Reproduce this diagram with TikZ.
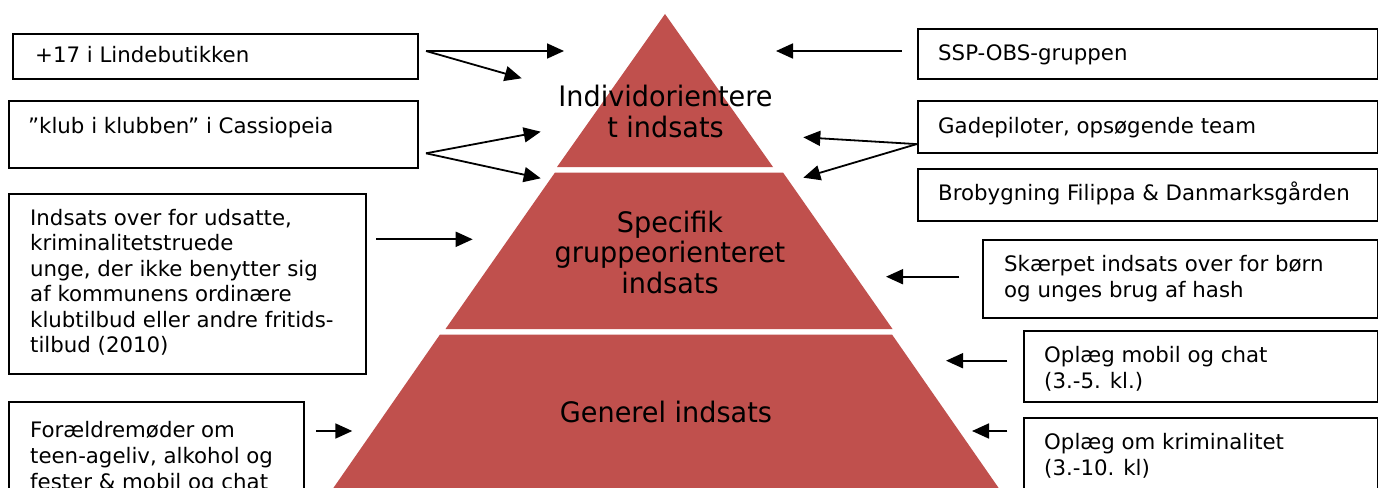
\documentclass[tikz,border=0pt]{standalone}
\usepackage{fontspec}
\usetikzlibrary{arrows.meta,calc}
\newfontfamily\boxfamily{DejaVu Sans}
\newfontfamily\pyrfamily[FakeStretch=0.96]{DejaVu Sans}
\definecolor{pyrred}{HTML}{C0504D}
\newcommand{\bstrut}{\rule{0pt}{17pt}}
\newcommand{\pstrut}{\rule{0pt}{21pt}}
\begin{document}
\begin{tikzpicture}[x=1pt,y=-1pt,
  box/.style={draw=black, line width=1.8pt, rectangle, inner sep=0pt, anchor=north west},
  btxt/.style={font=\boxfamily\fontsize{21.3pt}{26pt}\selectfont, inner sep=0pt, align=left, anchor=north west},
  bline/.style={font=\boxfamily\fontsize{21.3pt}{26pt}\selectfont, inner sep=0pt, anchor=base west},
  ptxt/.style={font=\pyrfamily\fontsize{28.2pt}{30.5pt}\selectfont, inner sep=0pt, align=center, anchor=north},
  arr/.style={line width=1.8pt, -{Triangle[length=17pt,width=15pt]}},
  tier/.style={fill=pyrred, draw=none}]
\useasboundingbox (0,0) rectangle (1378,487);
\clip (0,0) rectangle (1378,487);
\fill[white] (0,0) rectangle (1378,487);

% pyramid tiers
\fill[tier] (665,14) -- (773,167) -- (557,167) -- cycle;
\fill[tier] (555,172.5) -- (783,172.5) -- (892.5,329) -- (445.5,329) -- cycle;
\fill[tier] (440,334.5) -- (892,334.5) -- (1007,500) -- (325,500) -- cycle;

% pyramid labels
\node[ptxt] (ptop) at (665.5,85) {\pstrut Individorientere\\t indsats};
\node[ptxt] (pmid) at (670,210.7) {\pstrut Specifik\\gruppeorienteret\\indsats};
\node[ptxt, anchor=base] (pbot) at (666,422) {Generel indsats};

% left boxes
\node[box, minimum width=405pt, minimum height=44.8pt] (b1) at (12,33.5) {};
\node[box, minimum width=408.7pt, minimum height=66.7pt] (b2) at (8.3,100) {};
\node[box, minimum width=356.7pt, minimum height=180pt] (b3) at (8.3,192.7) {};
\node[box, minimum width=294.4pt, minimum height=110pt] (b4) at (8.3,400.7) {};

\node[bline] (t1) at (35,63) {+17 i Lindebutikken};
\node[bline] (t2) at (28,133) {”klub i klubben” i Cassiopeia};
\node[btxt, font=\boxfamily\fontsize{21.3pt}{25.5pt}\selectfont] (t3) at (30,208) {\bstrut Indsats over for udsatte,\\kriminalitetstruede\\unge, der ikke benytter sig\\af kommunens ordinære\\klubtilbud eller andre fritids-\\tilbud (2010)};
\node[btxt] (t4) at (30,420) {\bstrut Forældremøder om\\teen-ageliv, alkohol og\\fester \& mobil og chat};

% right boxes
\node[box, minimum width=460pt, minimum height=49.4pt] (r1) at (916.7,28.3) {};
\node[box, minimum width=460pt, minimum height=52.3pt] (r2) at (916.7,100) {};
\node[box, minimum width=460pt, minimum height=52.3pt] (r3) at (916.7,167.7) {};
\node[box, minimum width=394.4pt, minimum height=78.3pt] (r4) at (982.3,239) {};
\node[box, minimum width=354pt, minimum height=71pt] (r5) at (1022.7,330) {};
\node[box, minimum width=354pt, minimum height=90pt] (r6) at (1022.7,416.7) {};

\node[bline] (s1) at (938,60.5) {SSP-OBS-gruppen};
\node[bline] (s2) at (938,133.3) {Gadepiloter, opsøgende team};
\node[bline] (s3) at (938,200) {Brobygning Filippa \& Danmarksgården};
\node[btxt] (s4) at (1004,254) {\bstrut Skærpet indsats over for børn\\og unges brug af hash};
\node[btxt] (s5) at (1044,345) {\bstrut Oplæg mobil og chat\\(3.-5. kl.)};
\node[btxt] (s6) at (1044,432) {\bstrut Oplæg om kriminalitet\\(3.-10. kl)};

% arrow end points
\coordinate (a1s) at (426,51);
\coordinate (a1e) at (564,51);
\coordinate (a2e) at (521.7,78.3);
\coordinate (a3s) at (426,153.3);
\coordinate (a3e) at (540.7,131.7);
\coordinate (a4e) at (540.7,178.3);
\coordinate (a5s) at (376,239.3);
\coordinate (a5e) at (472.7,239.3);
\coordinate (a6s) at (316,431);
\coordinate (a6e) at (352.3,431);
\coordinate (c1s) at (901.7,51);
\coordinate (c1e) at (776,51);
\coordinate (c2s) at ($(r2.south west)+(0,-10)$);
\coordinate (c2e) at (803.3,137.3);
\coordinate (c3e) at (803.3,177.7);
\coordinate (c4s) at (959.3,276.7);
\coordinate (c4e) at (886,276.7);
\coordinate (c5s) at (1007.3,360.7);
\coordinate (c5e) at (946,360.7);
\coordinate (c6s) at (1007.3,431);
\coordinate (c6e) at (972,431);

% arrows
\draw[arr] (a1s) -- (a1e);
\draw[arr] (a1s) -- (a2e);
\draw[arr] (a3s) -- (a3e);
\draw[arr] (a3s) -- (a4e);
\draw[arr] (a5s) -- (a5e);
\draw[arr] (a6s) -- (a6e);
\draw[arr] (c1s) -- (c1e);
\draw[arr] (c2s) -- (c2e);
\draw[arr] (c2s) -- (c3e);
\draw[arr] (c4s) -- (c4e);
\draw[arr] (c5s) -- (c5e);
\draw[arr] (c6s) -- (c6e);
\end{tikzpicture}
\end{document}
